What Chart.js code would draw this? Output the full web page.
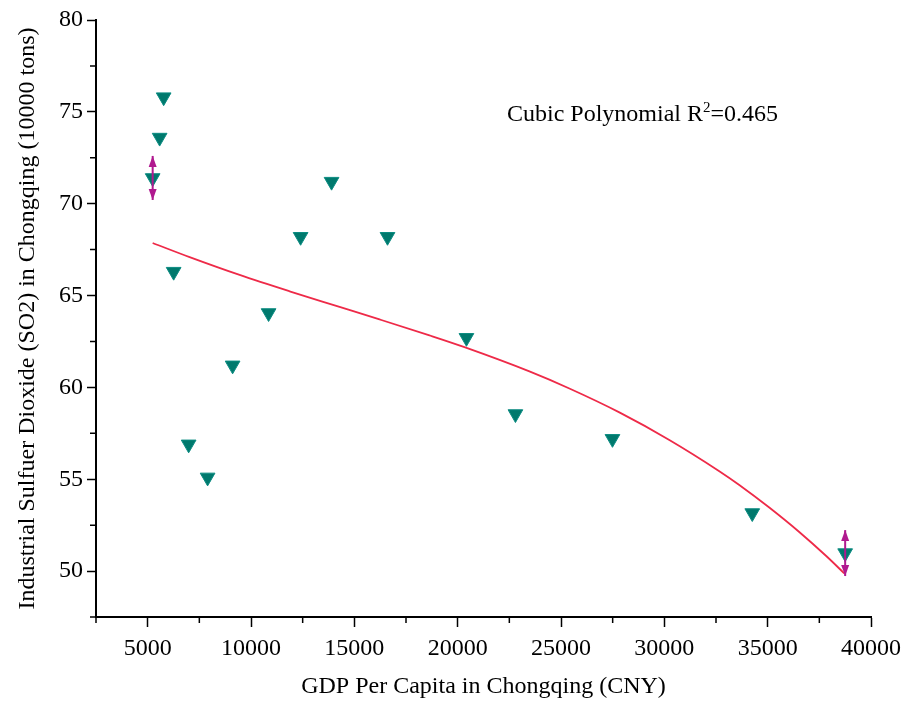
<!DOCTYPE html>
<html>
<head>
<meta charset="utf-8">
<script src="https://cdn.jsdelivr.net/npm/chart.js@4.4.1/dist/chart.umd.min.js"></script>
<style>
html, body { margin: 0; padding: 0; background: #fff; }
#wrap { width: 908px; height: 704px; }
</style>
</head>
<body>
<div id="wrap"><canvas id="chart" width="908" height="704"></canvas></div>
<script>
// observed points (GDP per capita, SO2 emission)
const gdpPerCapita = [5242, 5580, 5774, 6257, 6983, 7900, 9110, 10851, 12400, 13898, 16605, 20425, 22795, 27490, 34255, 38750];
const so2Emission = [71.4, 73.6, 75.8, 66.3, 56.9, 55.1, 61.2, 64.05, 68.2, 71.2, 68.2, 62.7, 58.55, 57.2, 53.16, 50.98];

// cubic fit curve
const fitGdp = [5242, 7031, 9449, 11867, 14284, 16219, 18636, 20329, 23472, 25406, 27824, 30242, 32660, 33627, 35077, 36528, 37834, 38704];
const fitSo2 = [67.86, 67.09, 66.12, 65.23, 64.38, 63.70, 62.83, 62.19, 60.87, 59.94, 58.64, 57.14, 55.44, 54.69, 53.46, 52.13, 50.82, 49.88];

// error bars on the end points
const errGdp = [5242, 38750];
const errSo2 = [71.4, 50.98];
const errSize = [1.2, 1.25];

const xTicks = [5000, 10000, 15000, 20000, 25000, 30000, 35000, 40000];
const yTicks = [50, 55, 60, 65, 70, 75, 80];
const xMinorTicks = [2500, 7500, 12500, 17500, 22500, 27500, 32500, 37500];
const yMinorTicks = [47.5, 52.5, 57.5, 62.5, 67.5, 72.5, 77.5];

const fitLabel = ['Cubic Polynomial R', '2', '=0.465'];

const serif = "'Liberation Serif', 'Times New Roman', serif";

const minorTicksPlugin = {
    id: 'minorTicks',
    afterDraw(chart) {
        const { ctx, scales: { x, y } } = chart;
        ctx.save();
        ctx.strokeStyle = '#000';
        ctx.lineWidth = 1.5;
        ctx.beginPath();
        xMinorTicks.forEach(v => {
            const px = x.getPixelForValue(v);
            ctx.moveTo(px, x.top);
            ctx.lineTo(px, x.top + 6);
        });
        yMinorTicks.forEach(v => {
            const py = y.getPixelForValue(v);
            ctx.moveTo(y.right - 6, py);
            ctx.lineTo(y.right, py);
        });
        ctx.stroke();
        ctx.restore();
    }
};

const errorBarsPlugin = {
    id: 'errorBars',
    afterDatasetsDraw(chart) {
        const { ctx, scales: { x, y } } = chart;
        ctx.save();
        ctx.strokeStyle = '#b0198f';
        ctx.fillStyle = '#b0198f';
        ctx.lineWidth = 2;
        errGdp.forEach((g, i) => {
            const px = x.getPixelForValue(g);
            const top = y.getPixelForValue(errSo2[i] + errSize[i]);
            const bot = y.getPixelForValue(errSo2[i] - errSize[i]);
            ctx.beginPath();
            ctx.moveTo(px, top);
            ctx.lineTo(px, bot);
            ctx.stroke();
            // arrow heads
            ctx.beginPath();
            ctx.moveTo(px, top);
            ctx.lineTo(px - 4, top + 11);
            ctx.lineTo(px + 4, top + 11);
            ctx.closePath();
            ctx.fill();
            ctx.beginPath();
            ctx.moveTo(px, bot);
            ctx.lineTo(px - 4, bot - 11);
            ctx.lineTo(px + 4, bot - 11);
            ctx.closePath();
            ctx.fill();
        });
        ctx.restore();
    }
};

const fitLabelPlugin = {
    id: 'fitLabel',
    afterDraw(chart) {
        const { ctx, chartArea } = chart;
        let px = chartArea.left + 411;
        const py = chartArea.top + 101;
        ctx.save();
        ctx.fillStyle = '#000';
        ctx.textBaseline = 'alphabetic';
        ctx.font = '24px ' + serif;
        ctx.fillText(fitLabel[0], px, py);
        px += ctx.measureText(fitLabel[0]).width;
        ctx.font = '15px ' + serif;
        ctx.fillText(fitLabel[1], px, py - 9);
        px += ctx.measureText(fitLabel[1]).width;
        ctx.font = '24px ' + serif;
        ctx.fillText(fitLabel[2], px, py);
        ctx.restore();
    }
};

const ctx = document.getElementById('chart');

new Chart(ctx, {
    data: {
        datasets: [{
            type: 'scatter',
            data: gdpPerCapita.map((g, i) => ({ x: g, y: so2Emission[i] })),
            pointStyle: 'triangle',
            rotation: 180,
            pointRadius: 8.5,
            backgroundColor: '#00796d',
            borderColor: '#0b8c82',
            borderWidth: 1
        }, {
            type: 'line',
            data: fitGdp.map((g, i) => ({ x: g, y: fitSo2[i] })),
            borderColor: '#ee2a48',
            borderWidth: 1.8,
            pointRadius: 0,
            cubicInterpolationMode: 'monotone',
            fill: false
        }]
    },
    options: {
        responsive: false,
        animation: false,
        devicePixelRatio: 1,
        layout: { padding: { top: 20, right: 36, left: 0, bottom: 0 } },
        plugins: {
            legend: { display: false },
            tooltip: { enabled: false }
        },
        scales: {
            x: {
                type: 'linear',
                min: 2500,
                max: 40000,
                afterBuildTicks: axis => { axis.ticks = xTicks.map(v => ({ value: v })); },
                afterFit: axis => { axis.height = 87; },
                grid: {
                    drawOnChartArea: false,
                    drawTicks: true,
                    tickLength: 10,
                    tickColor: '#000',
                    tickWidth: 1.5
                },
                border: { display: true, color: '#000', width: 2 },
                ticks: {
                    color: '#000',
                    font: { family: serif, size: 24 },
                    padding: 7,
                    maxRotation: 0,
                    callback: v => String(v)
                },
                title: {
                    display: true,
                    text: 'GDP Per Capita in Chongqing (CNY)',
                    color: '#000',
                    font: { family: serif, size: 24 },
                    padding: { top: 0, bottom: 3 }
                }
            },
            y: {
                type: 'linear',
                min: 47.5,
                max: 80,
                afterBuildTicks: axis => { axis.ticks = yTicks.map(v => ({ value: v })); },
                afterFit: axis => { axis.width = 96; },
                grid: {
                    drawOnChartArea: false,
                    drawTicks: true,
                    tickLength: 9,
                    tickColor: '#000',
                    tickWidth: 1.5
                },
                border: { display: true, color: '#000', width: 2 },
                ticks: {
                    color: '#000',
                    font: { family: serif, size: 24 },
                    padding: 4,
                    callback: v => String(v)
                },
                title: {
                    display: true,
                    text: 'Industrial Sulfuer Dioxide (SO2) in Chongqing (10000 tons)',
                    color: '#000',
                    font: { family: serif, size: 24 },
                    padding: { top: 13, bottom: 0 }
                }
            }
        }
    },
    plugins: [minorTicksPlugin, errorBarsPlugin, fitLabelPlugin]
});
</script>
</body>
</html>
